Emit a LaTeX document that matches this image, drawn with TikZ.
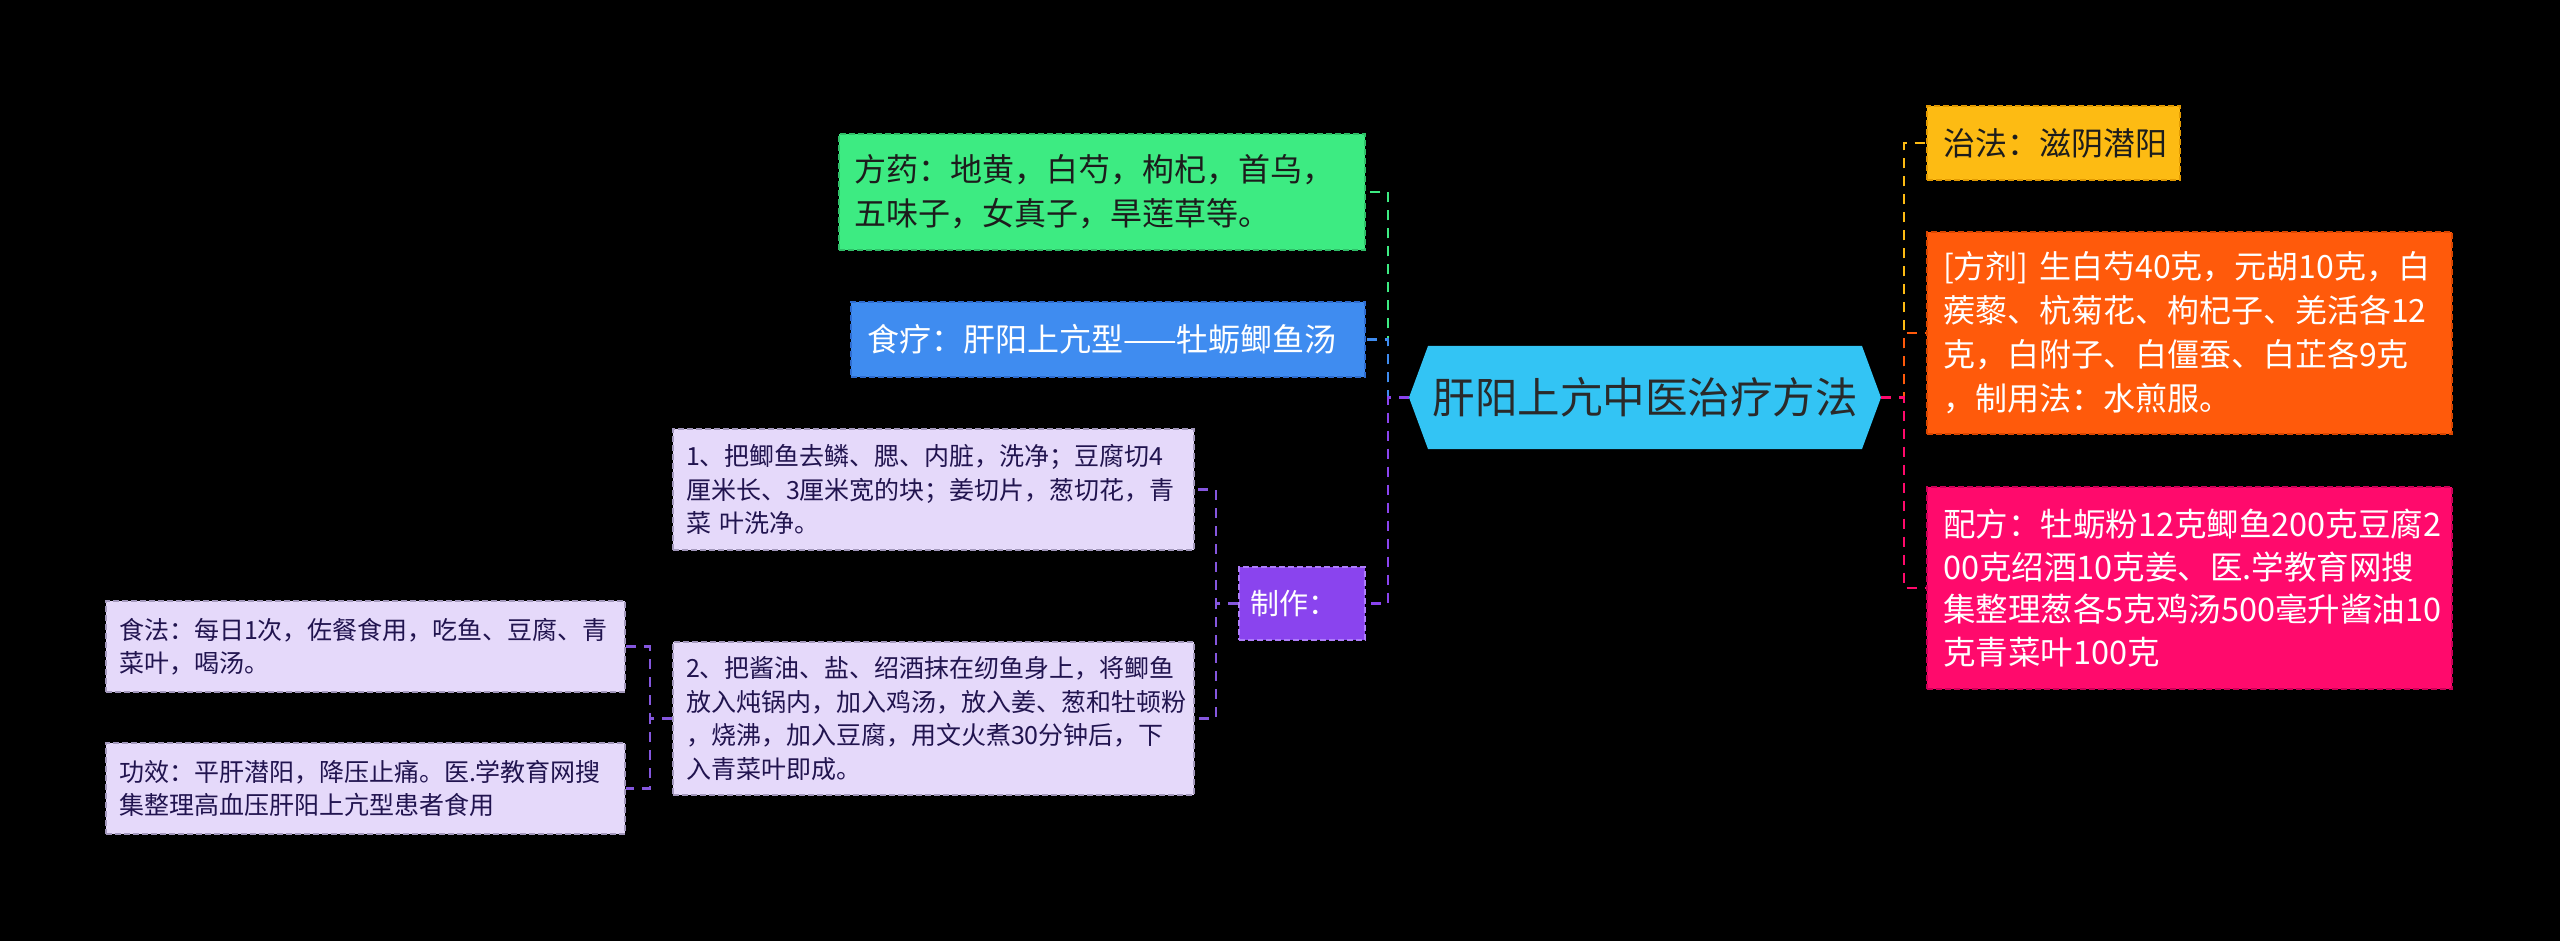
\documentclass[tikz,border=0pt]{standalone}
\usepackage{fontspec}
\setmainfont{Noto Sans CJK SC}
\usetikzlibrary{calc}
\definecolor{gfill}{HTML}{3DEB82}
\definecolor{gline}{HTML}{2FBF68}
\definecolor{bfill}{HTML}{3F8CF0}
\definecolor{bline}{HTML}{2E6CCF}
\definecolor{cfill}{HTML}{33C4F4}
\definecolor{ctext}{HTML}{2A2A2A}
\definecolor{yfill}{HTML}{FDBB13}
\definecolor{yline}{HTML}{E39A00}
\definecolor{ofill}{HTML}{FF5A0B}
\definecolor{oline}{HTML}{DA4600}
\definecolor{pfill}{HTML}{FF0A6C}
\definecolor{pline}{HTML}{CC0058}
\definecolor{lfill}{HTML}{E5D9FA}
\definecolor{lline}{HTML}{A398BC}
\definecolor{ltext}{HTML}{21144F}
\definecolor{ufill}{HTML}{8A44EE}
\definecolor{uline}{HTML}{AE7DFA}
\definecolor{uconn}{HTML}{8557DE}
\definecolor{dtext}{HTML}{1C1C1C}
\begin{document}
\begin{tikzpicture}[x=1pt,y=-1pt,
  box/.style={draw, dash pattern=on 6pt off 3pt, line width=1.6pt, inner ysep=0pt, align=left, anchor=center},
  bigfont/.style={font=\fontsize{32}{44}\selectfont},
  smallfont/.style={font=\fontsize{25}{33.5}\selectfont},
  conn/.style={line width=2.6pt, dash pattern=on 10pt off 8pt}
]
\useasboundingbox (0,0) rectangle (2560,941);
\fill[black] (0,0) rectangle (2560,941);

% center
\node[minimum width=472pt, minimum height=103pt, inner sep=0pt, text=ctext,
  font=\fontsize{42.5}{50}\selectfont,
  path picture={\fill[cfill] (path picture bounding box.west)
    -- ($(path picture bounding box.north west)+(19,0)$)
    -- ($(path picture bounding box.north east)+(-19,0)$)
    -- (path picture bounding box.east)
    -- ($(path picture bounding box.south east)+(-19,0)$)
    -- ($(path picture bounding box.south west)+(19,0)$) -- cycle;}]
  (c) at (1645,397.5) {肝阳上亢中医治疗方法};

% left side
\node[box, bigfont, fill=gfill, draw=gline, text=dtext, minimum width=526pt, minimum height=116pt, text width=496pt, inner xsep=15pt]
  (fy) at (1102,192) {方药：地黄，白芍，枸杞，首乌，\\五味子，女真子，旱莲草等。};
\node[box, bigfont, fill=bfill, draw=bline, text=white, minimum width=514pt, minimum height=75pt, text width=482pt, inner xsep=16pt]
  (sl) at (1108,339.5) {食疗：肝阳上亢型——牡蛎鲫鱼汤};
\node[box, font=\fontsize{29}{36}\selectfont, fill=ufill, draw=uline, text=white, minimum width=126pt, minimum height=73pt, text width=104pt, inner xsep=11pt]
  (zz) at (1302,603.5) {制作：};
\node[box, smallfont, fill=lfill, draw=lline, text=ltext, minimum width=521pt, minimum height=121pt, text width=495pt, inner xsep=13pt]
  (s1) at (933.5,489.5) {1、把鲫鱼去鳞、腮、内脏，洗净；豆腐切4\\厘米长、3厘米宽的块；姜切片，葱切花，青\\菜 叶洗净。};
\node[box, smallfont, fill=lfill, draw=lline, text=ltext, minimum width=521pt, minimum height=153pt, text width=495pt, inner xsep=13pt]
  (s2) at (933.5,718.5) {2、把酱油、盐、绍酒抹在纫鱼身上，将鲫鱼\\放入炖锅内，加入鸡汤，放入姜、葱和牡顿粉\\，烧沸，加入豆腐，用文火煮30分钟后，下\\入青菜叶即成。};
\node[box, smallfont, fill=lfill, draw=lline, text=ltext, minimum width=519pt, minimum height=91pt, text width=493pt, inner xsep=13pt]
  (sf) at (365.5,646.5) {食法：每日1次，佐餐食用，吃鱼、豆腐、青\\菜叶，喝汤。};
\node[box, smallfont, fill=lfill, draw=lline, text=ltext, minimum width=519pt, minimum height=91pt, text width=493pt, inner xsep=13pt]
  (gx) at (365.5,788.5) {功效：平肝潜阳，降压止痛。医.学教育网搜\\集整理高血压肝阳上亢型患者食用};

% right side
\node[box, bigfont, fill=yfill, draw=yline, text=dtext, minimum width=253pt, minimum height=74pt, text width=221pt, inner xsep=16pt]
  (zf) at (2053.5,143) {治法：滋阴潜阳};
\node[box, bigfont, fill=ofill, draw=oline, text=white, minimum width=525pt, minimum height=202pt, text width=493pt, inner xsep=16pt]
  (fj) at (2189.5,333) {[方剂] 生白芍40克，元胡10克，白\\蒺藜、杭菊花、枸杞子、羌活各12\\克，白附子、白僵蚕、白芷各9克\\，制用法：水煎服。};
\node[box, font=\fontsize{32.5}{42.5}\selectfont, fill=pfill, draw=pline, text=white, minimum width=525pt, minimum height=202pt, text width=493pt, inner xsep=16pt]
  (pf) at (2189.5,588) {配方：牡蛎粉12克鲫鱼200克豆腐2\\00克绍酒10克姜、医.学教育网搜\\集整理葱各5克鸡汤500毫升酱油10\\克青菜叶100克};

% junctions
\coordinate (jl) at (1388,397.5);
\coordinate (jr) at (1904,397.5);
\coordinate (jm) at (1216,603.5);
\coordinate (js) at (650,718.5);

% connectors
\draw[conn, gfill] (c.west) -- (jl) |- (fy.east);
\draw[conn, bfill] (c.west) -- (jl) |- (sl.east);
\draw[conn, ufill] (c.west) -- (jl) |- (zz.east);
\draw[conn, yfill] (c.east) -- (jr) |- (zf.west);
\draw[conn, ofill] (c.east) -- (jr) |- (fj.west);
\draw[conn, pfill] (c.east) -- (jr) |- (pf.west);
\draw[conn, uconn] (zz.west) -- (jm) |- (s1.east);
\draw[conn, uconn] (zz.west) -- (jm) |- (s2.east);
\draw[conn, uconn] (s2.west) -- (js) |- (sf.east);
\draw[conn, uconn] (s2.west) -- (js) |- (gx.east);
\end{tikzpicture}
\end{document}
